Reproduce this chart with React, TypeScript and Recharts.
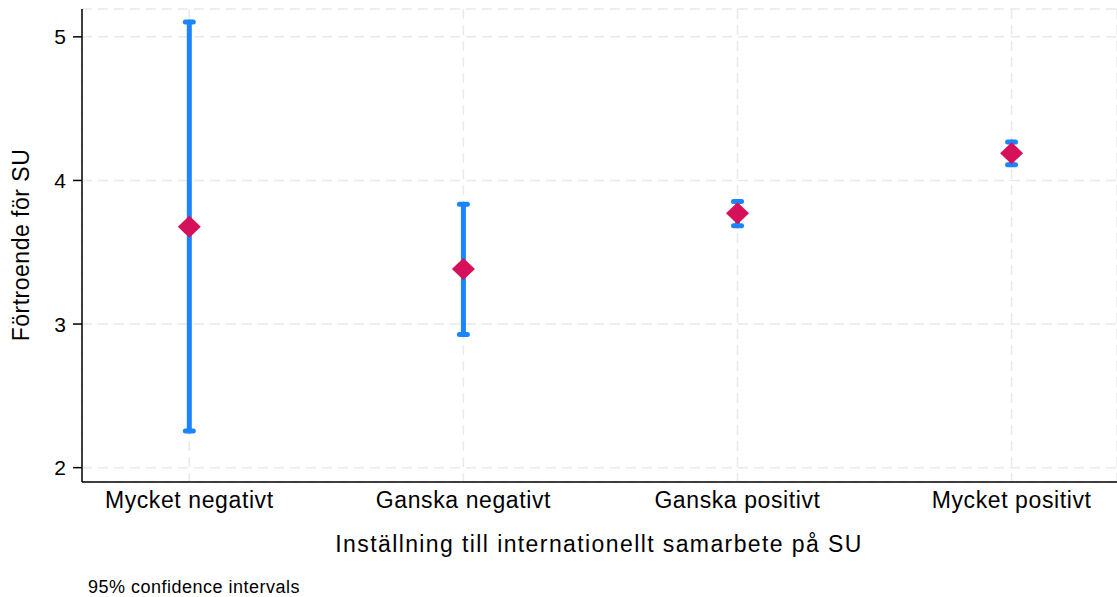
import React from 'react';
import { ScatterChart, Scatter, XAxis, YAxis, CartesianGrid, ErrorBar } from 'recharts';

const categories = ['Mycket negativt', 'Ganska negativt', 'Ganska positivt', 'Mycket positivt'];
const means = [3.677, 3.383, 3.772, 4.19];
const lowers = [2.256, 2.927, 3.684, 4.11];
const uppers = [5.104, 3.835, 3.853, 4.267];
const yTicks = [2, 3, 4, 5];
const xTitle = 'Inställning till internationellt samarbete på SU';
const yTitle = 'Förtroende för SU';
const note = '95% confidence intervals';

const data = categories.map((c, i) => ({
  x: i + 1,
  name: c,
  y: means[i],
  err: [means[i] - lowers[i], uppers[i] - means[i]],
}));

const FONT = '"Liberation Sans", Arial, Helvetica, sans-serif';
const BLUE = '#1A85FF';
const RED = '#D41159';

const Diamond = (props: any) => {
  const { cx, cy } = props;
  if (cx == null || cy == null) return <g />;
  const w = 11.5;
  const h = 11;
  return <polygon points={`${cx},${cy - h} ${cx + w},${cy} ${cx},${cy + h} ${cx - w},${cy}`} fill={RED} />;
};

const Empty = () => <g />;

const XTick = (props: any) => {
  const { x, y, payload } = props;
  return (
    <text x={x} y={y + 16.5} textAnchor="middle" fontSize={23} fontFamily={FONT} fill="#000" letterSpacing={0.6}>
      {categories[payload.value - 1]}
    </text>
  );
};

const YTick = (props: any) => {
  const { x, y, payload } = props;
  return (
    <text x={x} y={y + 7.5} textAnchor="end" fontSize={21} fontFamily={FONT} fill="#000">
      {payload.value}
    </text>
  );
};

export default function App() {
  return (
    <div style={{ position: 'absolute', left: 0, top: 0, width: 1117, height: 597, background: '#fff' }}>
      <ScatterChart width={1117} height={597} margin={{ top: 9, right: 0, left: 0, bottom: 0 }}>
        <CartesianGrid stroke="#e9e9e9" strokeWidth={1.5} strokeDasharray="10 6" />
        <XAxis
          dataKey="x"
          type="number"
          domain={[0.6085, 4.3845]}
          ticks={[1, 2, 3, 4]}
          allowDataOverflow
          height={115}
          tickLine={false}
          tickSize={0}
          tickMargin={9}
          axisLine={{ stroke: '#000', strokeWidth: 1.5 }}
          tick={<XTick />}
        />
        <YAxis
          dataKey="y"
          type="number"
          domain={[1.9, 5.194]}
          ticks={yTicks}
          allowDataOverflow
          width={82}
          tickSize={9}
          tickMargin={7}
          tickLine={{ stroke: '#000', strokeWidth: 1.5 }}
          axisLine={{ stroke: '#000', strokeWidth: 1.5 }}
          tick={<YTick />}
        />
        <Scatter data={data} shape={<Empty />} isAnimationActive={false}>
          <ErrorBar
            dataKey="err"
            direction="y"
            width={4}
            stroke={BLUE}
            strokeWidth={5}
            strokeLinecap="round"
            isAnimationActive={false}
          />
        </Scatter>
        <Scatter data={data} shape={<Diamond />} isAnimationActive={false} />
      </ScatterChart>
      <svg width={1117} height={597} style={{ position: 'absolute', left: 0, top: 0, pointerEvents: 'none' }}>
        <text x={599} y={551.5} textAnchor="middle" fontSize={23} fontFamily={FONT} fill="#000" letterSpacing={1.4}>
          {xTitle}
        </text>
        <text transform="translate(28.5,245) rotate(-90)" x={0} y={0} textAnchor="middle" fontSize={23} fontFamily={FONT} fill="#000" letterSpacing={0.5}>
          {yTitle}
        </text>
        <text x={88} y={593} fontSize={18} fontFamily={FONT} fill="#000" letterSpacing={0.5}>
          {note}
        </text>
      </svg>
    </div>
  );
}
